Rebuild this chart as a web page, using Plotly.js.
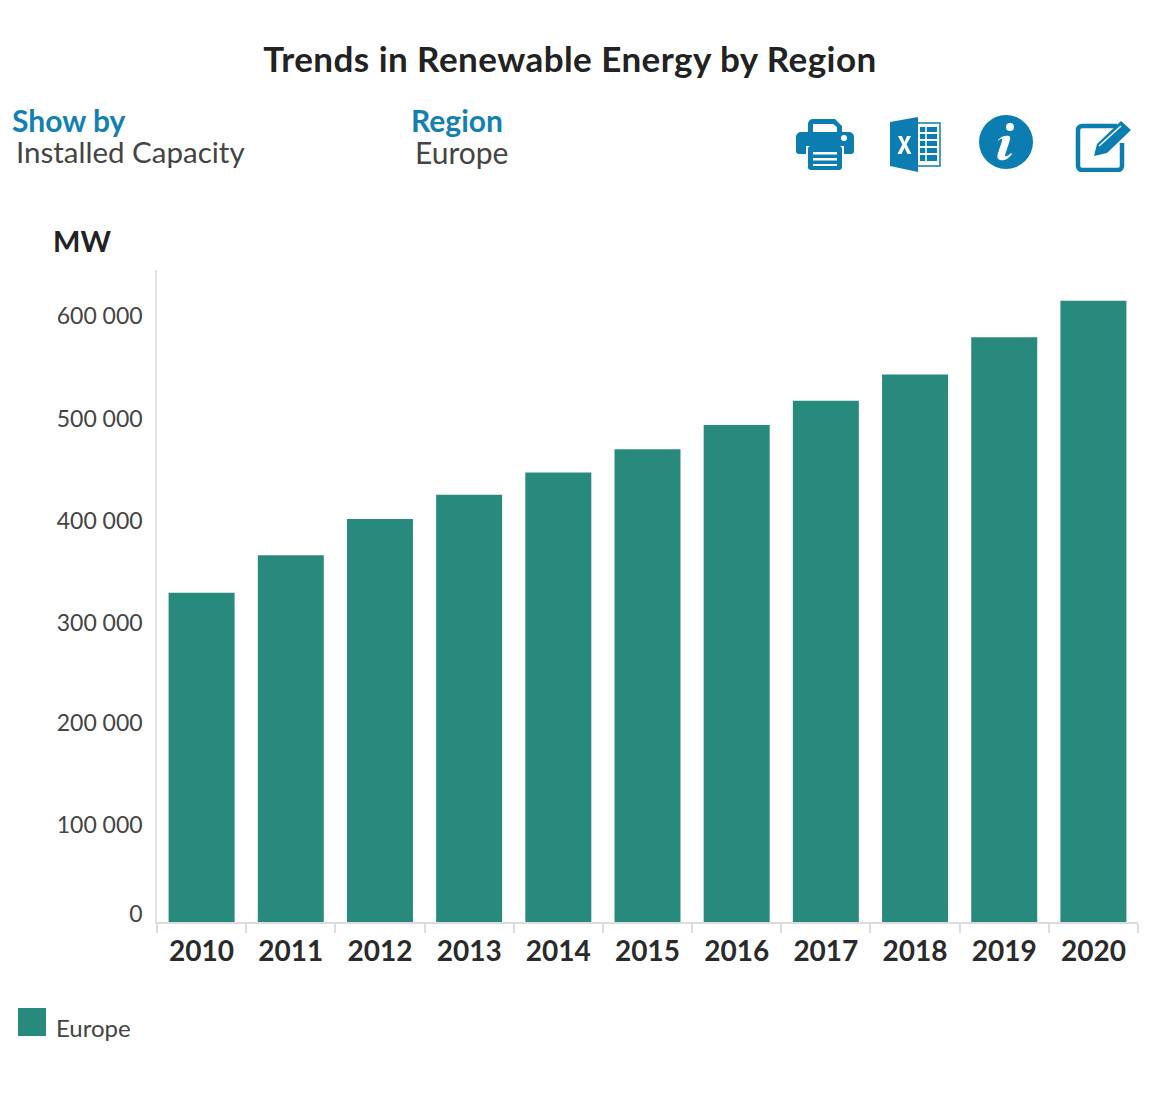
<!DOCTYPE html>
<html><head><meta charset="utf-8">
<script src="https://cdn.plot.ly/plotly-3.0.1.min.js"></script>
<style>html,body{margin:0;padding:0;background:#fff}#c{width:1150px;height:1093px}
.gtitle{letter-spacing:.45px}</style></head>
<body><div id="c"></div>
<script>
const years = ['2010','2011','2012','2013','2014','2015','2016','2017','2018','2019','2020'];
const capacityMW = [326000,363000,399000,423000,445000,468000,492000,516000,542000,579000,615000];
const yTickLabels = ['0','100 000','200 000','300 000','400 000','500 000','600 000'];
// The reference's tick labels sit slightly off their nominal height.
const yTickLabelPositions = [8000,96000,197000,296000,397000,498000,600000];
const seriesName = 'Europe';
const W = 1150, H = 1093, L = 157, R = 1138, T = 270, B = 922;
const TEAL = '#288a7c', BLUE = '#0b7db1', FONT = 'Lato, "Open Sans", sans-serif';
const px = x => (x - L) / (R - L), py = y => (B - y) / (B - T);
const note = (text, x, y, size, color, anchor) => ({text, xref:'paper', yref:'paper', x:px(x), y:py(y),
  xanchor:anchor||'left', yanchor:'middle', showarrow:false, font:{family:FONT, size, color}});
const svg = (w,h,body) => 'data:image/svg+xml;utf8,' + encodeURIComponent(
  `<svg xmlns="http://www.w3.org/2000/svg" width="${w}" height="${h}" viewBox="0 0 ${w} ${h}">${body}</svg>`);
const icon = (source,x,y,w,h) => ({source, xref:'paper', yref:'paper', x:px(x), y:py(y),
  sizex:w/(R-L), sizey:h/(B-T), xanchor:'left', yanchor:'top', sizing:'stretch', layer:'above'});
const printer = svg(60,54,`<path d="M13 18V7a5 5 0 0 1 5-5h22l7 7v9h-5v-8l-4-3H18v11z" fill="${BLUE}"/>
 <path d="M6 15h48a5 5 0 0 1 5 5v14a3 3 0 0 1-3 3h-7v-8H11v8H4a3 3 0 0 1-3-3V20a5 5 0 0 1 5-5z" fill="${BLUE}"/>
 <circle cx="49" cy="21" r="3" fill="#fff"/>
 <rect x="13" y="29" width="34" height="24" rx="3" fill="${BLUE}"/>
 <rect x="18" y="35" width="24" height="2.5" fill="#fff"/><rect x="18" y="41" width="24" height="2.5" fill="#fff"/><rect x="18" y="47" width="24" height="2" fill="#fff"/>`);
const excel = svg(52,57,`<rect x="28" y="7" width="23" height="43" fill="#fff" stroke="${BLUE}" stroke-width="1.5"/>
 <path d="M31 11h17v5H31zM31 18h17v5H31zM31 25h17v5H31zM31 32h17v5H31zM31 39h17v6H31z" fill="${BLUE}"/>
 <path d="M37 10v38" stroke="#fff" stroke-width="1.5"/>
 <path d="M1 6L29 1V56L1 50z" fill="${BLUE}"/>
 <path d="M9 20h4l2.5 6 2.5-6h4l-4.4 8.6L22.5 38h-4l-3-6.2-3 6.2h-4l4.800-9.400z" fill="#fff"/>`);
const info = svg(56,56,`<circle cx="28" cy="28" r="27" fill="${BLUE}"/>
 <circle cx="32" cy="13" r="4" fill="#fff"/>
 <path d="M20 26c3-4 8-5 11-4 2 1 1 4 0 7l-4 12c0 2 2 2 6-2l1 1c-4 6-9 7-12 6-3-1-3-4-2-7l4-12c1-3-1-3-4 0z" fill="#fff"/>`);
const edit = svg(58,53,`<path d="M42 7H7a4 4 0 0 0-4 4v36a4 4 0 0 0 4 4h36a4 4 0 0 0 4-4V24" fill="none" stroke="${BLUE}" stroke-width="4.500"/>
 <path d="M19 37l3-12L46 2l10 9-24 23z" fill="${BLUE}"/>
 <path d="M24 27L46 7" stroke="#fff" stroke-width="1.500"/>`);
Plotly.newPlot('c', [{
  type:'bar', x:years, y:capacityMW, name:seriesName, marker:{color:TEAL}, showlegend:false
}], {
  width:W, height:H, autosize:false, paper_bgcolor:'#fff', plot_bgcolor:'#fff',
  margin:{l:L, r:W-R, t:T, b:H-B, pad:0}, bargap:0.26, showlegend:false,
  title:{text:'<b>Trends in Renewable Energy by Region</b>', x:570/W, xanchor:'center', y:1-60/H, yanchor:'middle',
         font:{family:FONT, size:35, color:'#222'}},
  xaxis:{type:'category', tickson:'boundaries', ticks:'outside', ticklen:9, tickcolor:'#dcdcdc', tickwidth:1.500,
         showline:true, linecolor:'#dcdcdc', linewidth:1.500, showgrid:false, zeroline:false,
         ticklabelstandoff:4, tickfont:{family:FONT, size:28, color:'#2a2a2a', weight:700}, automargin:false},
  yaxis:{range:[0,(B-T)/1.01*1000], tickmode:'array', tickvals:yTickLabelPositions, ticktext:yTickLabels,
         ticks:'', showline:true, linecolor:'#e2e2e2', linewidth:1.500, showgrid:false, zeroline:false,
         ticklabelstandoff:8, tickfont:{family:FONT, size:23, color:'#444'}, automargin:false},
  annotations:[
    note('<b>MW</b>',51,240,29,'#222'),
    note('<b>Show by</b>',10,120,30,'#1380b2'),
    note('Installed Capacity',14,152,29.5,'#444'),
    note('<b>Region</b>',409,120,30,'#1380b2'),
    note('Europe',413,152,30,'#444'),
    note(seriesName,54,1027,24,'#444')
  ],
  shapes:[{type:'rect', xref:'paper', yref:'paper', x0:px(18), x1:px(46), y0:py(1036), y1:py(1008),
           fillcolor:TEAL, line:{width:0}}],
  images:[icon(printer,795,117,60,54), icon(excel,889,116,52,57), icon(info,978,114,56,56), icon(edit,1075,119,58,53)]
}, {displayModeBar:false, responsive:false});
</script></body></html>
